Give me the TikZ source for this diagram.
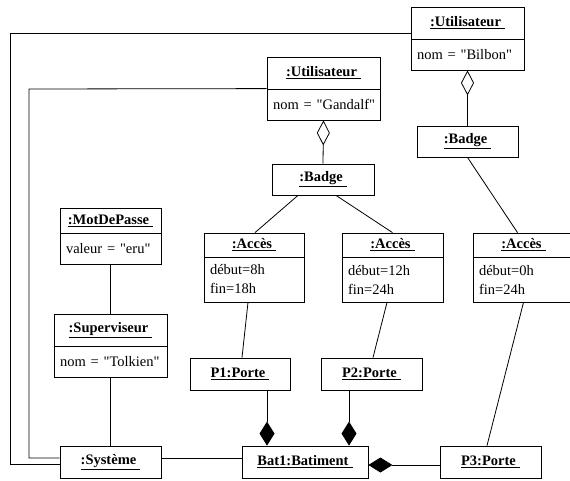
\documentclass[tikz,border=0pt]{standalone}
\usepackage{fontspec}
\setmainfont{Liberation Serif}
\usetikzlibrary{arrows.meta}

\newcommand{\objname}[1]{\underline{\textbf{#1}\hspace{4pt}}}
\newcommand{\qt}[1]{\textquotedbl#1\textquotedbl}

\begin{document}
\begin{tikzpicture}[x=1pt, y=-1pt, line width=0.8pt,
    font=\fontsize{14.5}{19}\selectfont,
    objet/.style={draw, minimum height=32pt, inner sep=0pt},
    attr/.style={draw, inner xsep=6pt, inner ysep=0pt, align=left},
    agreg/.style={{Diamond[open, length=25pt, width=13pt]}-},
    compo/.style={{Diamond[length=24pt, width=15pt]}-}]
  \useasboundingbox (0, 0) rectangle (570, 481);

  \node (util2t) at (467.5, 23) [objet, minimum width=113pt] {\objname{:Utilisateur}};
  \node (util2a) at (467.5, 54.5) [attr, text width=101pt, minimum height=31pt] {\mbox{nom = \qt{Bilbon}}};
  \node (util1t) at (323.5, 73) [objet, minimum width=113pt] {\objname{:Utilisateur}};
  \node (util1a) at (323.5, 104.5) [attr, text width=101pt, minimum height=31pt] {\mbox{nom = \qt{Gandalf}}};
  \node (badge1) at (323, 179.5) [objet, minimum width=102pt, minimum height=31pt] {\objname{:Badge}};
  \node (badge2) at (467.5, 141.5) [objet, minimum width=101pt, minimum height=31pt] {\objname{:Badge}};
  \node (mdpt) at (110.5, 220.5) [objet, minimum width=101pt, minimum height=25pt] {\objname{:MotDePasse}};
  \node (mdpa) at (110.5, 248.5) [attr, text width=89pt, minimum height=31pt] {\mbox{valeur = \qt{eru}}};
  \node (acces1t) at (254, 245) [objet, minimum width=100pt, minimum height=24pt] {\objname{:Accès}};
  \node (acces1a) at (254, 279.5) [attr, text width=88pt, minimum height=45pt] {début=8h\\fin=18h};
  \node (acces2t) at (392.5, 245) [objet, minimum width=101pt, minimum height=24pt] {\objname{:Accès}};
  \node (acces2a) at (392.5, 279.5) [attr, text width=89pt, minimum height=45pt] {début=12h\\fin=24h};
  \node (acces3t) at (523.5, 245) [objet, minimum width=101pt, minimum height=24pt] {\objname{:Accès}};
  \node (acces3a) at (523.5, 279.5) [attr, text width=89pt, minimum height=45pt] {début=0h\\fin=24h};
  \node (supt) at (110.5, 330) [objet, minimum width=113pt] {\objname{:Superviseur}};
  \node (supa) at (110.5, 361.5) [attr, text width=101pt, minimum height=31pt] {\mbox{nom = \qt{Tolkien}}};
  \node (p1) at (240, 374) [objet, minimum width=100pt] {\objname{P1:Porte}};
  \node (p2) at (371.5, 374) [objet, minimum width=101pt] {\objname{P2:Porte}};
  \node (sys) at (110.5, 462) [objet, minimum width=101pt] {\objname{:Système}};
  \node (bat1) at (305, 462) [objet, minimum width=126pt] {\objname{Bat1:Batiment}};
  \node (p3) at (490.5, 462) [objet, minimum width=101pt] {\objname{P3:Porte}};

  \draw ([yshift=-2pt]sys.west) -| (10, 33) -- ([yshift=-10pt]util2t.west);
  \draw ([yshift=4pt]sys.west) -| (29, 89) -- (util1a.north west);
  \draw ([yshift=4pt]sys.east) -- ([yshift=4pt]bat1.west);
  \draw (mdpa.south) -- (supt.north);
  \draw (supa.south) -- (sys.north);
  \draw[agreg] (util1a.south) -- (badge1.north);
  \draw[agreg] (util2a.south) -- (badge2.north);
  \draw ([xshift=-25pt]badge1.south) -- ([xshift=1pt]acces1t.north);
  \draw ([xshift=13pt]badge1.south) -- (acces2t.north);
  \draw (badge2.south) -- ([xshift=-6pt]acces3t.north);
  \draw ([xshift=-6pt]acces1a.south) -- ([xshift=2pt]p1.north);
  \draw ([xshift=-5.5pt]acces2a.south) -- ([xshift=1.5pt]p2.north);
  \draw (acces3a.south) -- ([xshift=-3.5pt]p3.north);
  \draw[compo] ([xshift=-38pt]bat1.north) -- ([xshift=27pt]p1.south);
  \draw[compo] ([xshift=44pt]bat1.north) -- ([xshift=-22.5pt]p2.south);
  \draw[compo] ([yshift=-3pt]bat1.east) -- ([yshift=-3pt]p3.west);
\end{tikzpicture}
\end{document}
